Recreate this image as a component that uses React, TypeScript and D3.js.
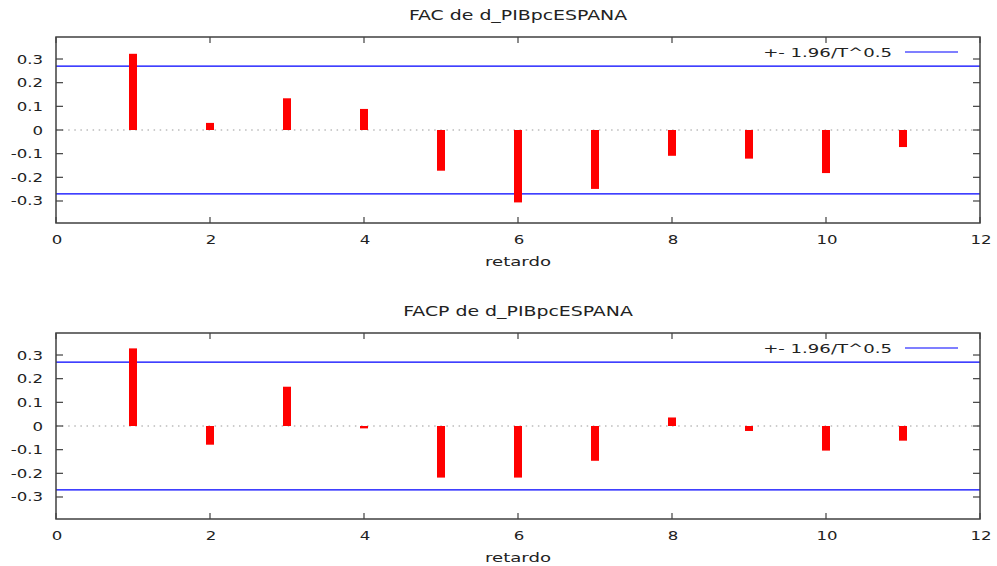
import React from 'react';
import * as d3 from 'd3';

// lags and correlations
const lags = [1, 2, 3, 4, 5, 6, 7, 8, 9, 10, 11];
const facValues = [0.322, 0.030, 0.134, 0.089, -0.172, -0.306, -0.249, -0.109, -0.121, -0.182, -0.072];
const facpValues = [0.328, -0.079, 0.166, -0.010, -0.218, -0.218, -0.147, 0.036, -0.021, -0.104, -0.062];
const xTicks = [0, 2, 4, 6, 8, 10, 12];
const yTicks = [-0.3, -0.2, -0.1, 0, 0.1, 0.2, 0.3];
const band = 0.27; // +- 1.96/T^0.5
const titles = ['FAC de d_PIBpcESPANA', 'FACP de d_PIBpcESPANA'];
const legendLabel = '+- 1.96/T^0.5';
const xLabel = 'retardo';

const W = 997, H = 566;
const left = 56, right = 980;
const plotH = 186;
const tops = [37, 333];
const font = '"DejaVu Sans", Verdana, sans-serif';
const textCol = '#222';
const axisCol = '#404040';

// the reference's font is stretched sideways, so scale text horizontally
const SText = ({x, y, sx, size, anchor, children}: any) => (
    <text transform={`translate(${x},${y}) scale(${sx},1)`} fontSize={size}
          textAnchor={anchor} fill={textCol} fontFamily={font}>{children}</text>
);

const Panel = ({top, title, values}: {top: number, title: string, values: number[]}) => {
    const x = d3.scaleLinear().domain([0, 12]).range([left, right]);
    const y = d3.scaleLinear().domain([-0.393, 0.393]).range([top + plotH, top]);
    const tk = 7;
    return (
        <g>
            <SText x={(left + right) / 2} y={top - 17} sx={1.4} size={13.5} anchor="middle">{title}</SText>

            {/* zero line */}
            <line x1={left} x2={right} y1={y(0)} y2={y(0)} stroke="#999" strokeWidth={1}
                  strokeDasharray="1.5,4.6"/>

            {/* confidence band */}
            <line x1={left} x2={right} y1={y(band)} y2={y(band)} stroke="#0000ff" strokeWidth={1.2}/>
            <line x1={left} x2={right} y1={y(-band)} y2={y(-band)} stroke="#0000ff" strokeWidth={1.2}/>

            {/* bars */}
            {values.map((v, i) => (
                <rect key={i} x={x(lags[i]) - 4} width={8}
                      y={Math.min(y(v), y(0))} height={Math.abs(y(v) - y(0))} fill="#ff0000"/>
            ))}

            {/* ticks, mirrored inward */}
            {yTicks.map(t => (
                <g key={'y' + t}>
                    <line x1={left} x2={left + tk} y1={y(t)} y2={y(t)} stroke={axisCol} strokeWidth={1.2}/>
                    <line x1={right - tk} x2={right} y1={y(t)} y2={y(t)} stroke={axisCol} strokeWidth={1.2}/>
                    <SText x={left - 13} y={y(t) + 4.5} sx={1.38} size={12} anchor="end">{String(t)}</SText>
                </g>
            ))}
            {xTicks.map(t => (
                <g key={'x' + t}>
                    <line x1={x(t)} x2={x(t)} y1={top} y2={top + tk - 1} stroke={axisCol} strokeWidth={1.2}/>
                    <line x1={x(t)} x2={x(t)} y1={top + plotH - tk + 1} y2={top + plotH} stroke={axisCol} strokeWidth={1.2}/>
                    <SText x={x(t) + 1} y={top + plotH + 21} sx={1.38} size={12} anchor="middle">{String(t)}</SText>
                </g>
            ))}

            <rect x={left} y={top} width={right - left} height={plotH} fill="none" stroke={axisCol} strokeWidth={1.5}/>

            {/* legend */}
            <SText x={892} y={top + 20} sx={1.45} size={12.5} anchor="end">{legendLabel}</SText>
            <line x1={905} x2={958} y1={top + 15} y2={top + 15} stroke="#0000ff" strokeWidth={1.2}/>

            <SText x={(left + right) / 2} y={top + plotH + 43} sx={1.39} size={13} anchor="middle">{xLabel}</SText>
        </g>
    );
};

export default function App() {
    return (
        <svg width={W} height={H} style={{position: 'absolute', left: 0, top: 0, background: '#fff'}}>
            <rect width={W} height={H} fill="#fff"/>
            <Panel top={tops[0]} title={titles[0]} values={facValues}/>
            <Panel top={tops[1]} title={titles[1]} values={facpValues}/>
        </svg>
    );
}
